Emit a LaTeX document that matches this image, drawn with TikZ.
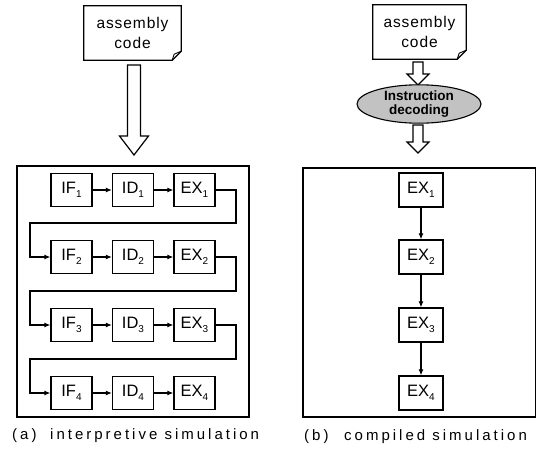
\documentclass[tikz,border=0pt]{standalone}
\usepackage{fontspec}
\setmainfont{Liberation Sans}
\newfontfamily\capfont[LetterSpace=20]{Liberation Sans}
\newfontfamily\docfont[LetterSpace=6]{Liberation Sans}
\usetikzlibrary{arrows.meta,shapes.geometric}
\newcommand\sbx[1]{\raisebox{-0.45ex}{\fontsize{10}{10}\selectfont #1}}
\newcommand\hollowarrow[6]{%
  \draw[hollow] (#1-#5,#2) -- (#1+#5,#2) -- (#1+#5,#3) -- (#1+#6,#3) -- (#1,#4) -- (#1-#6,#3) -- (#1-#5,#3) -- cycle;}
\newcommand\docshape[1]{%
  \draw[line width=1.2pt] (#1.north west) -- (#1.north east) -- ([yshift=9pt]#1.south east) -- ([xshift=-9pt]#1.south east) -- (#1.south west) -- cycle;
  \draw[line width=0.9pt] ([yshift=9pt]#1.south east) -- ([xshift=-7pt,yshift=6pt]#1.south east) -- ([xshift=-9pt]#1.south east);}
\begin{document}
\begin{tikzpicture}[x=1pt,y=-1pt,
  stage/.style={draw,line width=1.3pt,minimum width=41pt,minimum height=33pt,inner sep=0pt,font=\fontsize{16.5}{16.5}\selectfont},
  cstage/.style={stage,minimum width=44pt,minimum height=34pt},
  flow/.style={-{Latex[length=6pt,width=5pt]},line width=1.1pt},
  panel/.style={line width=2.8pt},
  hollow/.style={draw,line width=1.2pt,fill=white,line join=miter},
  doc/.style={minimum width=97pt,minimum height=54pt,inner sep=0pt,align=center,font=\docfont\fontsize{15.5}{20}\selectfont},
  captxt/.style={anchor=west,inner sep=0pt,font=\capfont\fontsize{15}{15}\selectfont}]
\useasboundingbox (0,0) rectangle (537,450);

% documents
\node[doc] (docA) at (132.5,33) {assembly\\code};
\docshape{docA}
\node[doc,minimum width=93pt] (docB) at (419.5,32) {assembly\\code};
\docshape{docB}

% hollow arrows
\hollowarrow{134}{65}{136}{155}{6.5}{14.5}
\hollowarrow{418}{62}{74}{85}{5}{11}
\hollowarrow{418}{125}{142}{153}{5}{11}

% decoding ellipse
\node[ellipse,draw,line width=1.1pt,fill=black!24,minimum width=124pt,minimum height=37pt,inner sep=0pt,align=center,
      font=\bfseries\fontsize{13.5}{14.5}\selectfont] (dec) at (419,104) {Instruction\\decoding};

% panels
\draw[panel] (17,166) rectangle (249,417);
\draw[panel] (536,168) -- (303,168) -- (303,417) -- (536,417);
\draw[line width=0.8pt] (535.5,168) -- (535.5,417);

% left stages
\foreach \i/\y in {1/190,2/257,3/325,4/393}{
  \node[stage] (if\i) at (71.5,\y) {IF\sbx{\i}};
  \node[stage] (id\i) at (133,\y) {ID\sbx{\i}};
  \node[stage] (ex\i) at (194.5,\y) {EX\sbx{\i}};
  \draw[flow] (if\i) -- (id\i);
  \draw[flow] (id\i) -- (ex\i);
}
\draw[flow] (ex1.east) -| (236,223) -- (30,223) |- (if2.west);
\draw[flow] (ex2.east) -| (236,291) -- (30,291) |- (if3.west);
\draw[flow] (ex3.east) -| (236,359) -- (30,359) |- (if4.west);

% right stages
\foreach \i/\y in {1/190,2/257,3/325,4/393}{
  \node[cstage] (cx\i) at (421,\y) {EX\sbx{\i}};
}
\draw[flow] (cx1) -- (cx2);
\draw[flow] (cx2) -- (cx3);
\draw[flow] (cx3) -- (cx4);

% captions
\node[captxt] (capa1) at (12,436) {(a)};
\node[captxt] (capa2) at (50,436) {interpretive simulation};
\node[captxt] (capb1) at (304,437) {(b)};
\node[captxt] (capb2) at (344,437) {compiled simulation};
\end{tikzpicture}
\end{document}
